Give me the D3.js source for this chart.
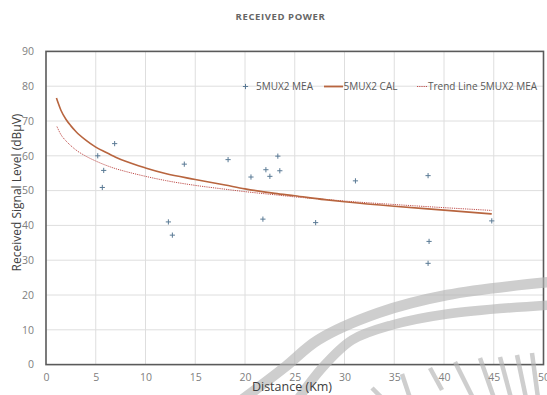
<!DOCTYPE html>
<html><head><meta charset="utf-8">
<script src="https://cdn.jsdelivr.net/npm/d3@7"></script>
<style>body{margin:0;background:#fff;}svg{display:block;font-family:"Open Sans",sans-serif;}</style>
</head><body>
<script>
const title = "RECEIVED POWER";
const xTicks = [0,5,10,15,20,25,30,35,40,45,50];
const yTicks = [0,10,20,30,40,50,60,70,80,90];
// measured points (distance km, level dBuV)
const meaDist = [5.2,5.8,5.66,6.9,12.3,12.7,13.9,18.3,20.6,21.8,22.1,22.5,23.3,23.5,27.1,31.1,38.4,38.5,38.4,44.8];
const meaVal  = [60.0,55.8,50.9,63.5,41.0,37.2,57.6,58.9,53.9,41.8,56.0,54.1,59.9,55.7,40.8,52.8,54.3,35.4,29.1,41.3];
// calculated curve
const calDist = [1.05,1.5,2,2.5,3,4,5,6,7,8,10,12,15,18,20,23,25,28,30,35,40,44.8];
const calVal  = [76.6,73.1,70.5,68.6,67.0,64.5,62.5,61.0,59.6,58.4,56.5,54.9,53.2,51.6,50.5,49.2,48.5,47.4,46.8,45.5,44.4,43.3];
// trend line
const trDist = [1.1,1.5,2,2.5,3,4,5,6,7,8,10,12,15,18,20,23,25,28,30,35,40,44.8];
const trVal  = [68.4,66.1,64.3,62.9,61.7,59.9,58.5,57.3,56.3,55.5,54.1,52.9,51.5,50.4,49.7,48.8,48.2,47.5,47.0,46.0,45.1,44.3];

const W=547,H=395, m={l:46,r:3.5,t:51.4,b:30.4};
const svg=d3.select("body").append("svg").attr("width",W).attr("height",H);
const x=d3.scaleLinear().domain([0,50]).range([m.l,W-m.r]);
const y=d3.scaleLinear().domain([0,90]).range([H-m.b,m.t]);

svg.append("text").attr("x",280.5).attr("y",19.5).attr("text-anchor","middle")
  .attr("font-size",9.5).attr("font-weight","bold").attr("letter-spacing",0.6)
  .attr("fill","#666").text(title);

// grid
svg.append("g").selectAll("line").data(xTicks.slice(1,-1)).join("line")
  .attr("x1",d=>x(d)).attr("x2",d=>x(d)).attr("y1",y(0)).attr("y2",y(90))
  .attr("stroke","#dedede").attr("stroke-width",1);
svg.append("g").selectAll("line").data(yTicks.slice(1,-1)).join("line")
  .attr("y1",d=>y(d)).attr("y2",d=>y(d)).attr("x1",x(0)).attr("x2",x(50))
  .attr("stroke","#dedede").attr("stroke-width",1);

// frame
svg.append("rect").attr("x",x(0)).attr("y",y(90)).attr("width",x(50)-x(0)).attr("height",y(0)-y(90))
  .attr("fill","none").attr("stroke","#5a5a5a").attr("stroke-width",1.6);

// watermark (decorative)
const wmLine=d3.line().curve(d3.curveCatmullRom);
const wm=svg.append("g").attr("fill","none").attr("stroke","#b4b4b4").attr("opacity",0.65).attr("stroke-linecap","butt");
wm.append("path").attr("d",wmLine([[239,402],[285,367],[318,340],[378,313],[447,295],[550,282]])).attr("stroke-width",10.5);
wm.append("path").attr("d",wmLine([[296,402],[322,368],[352,340],[392,325],[447,314],[550,305]])).attr("stroke-width",9.5);
[[[402,374],[410,398]],[[430,368],[442,390]],[[455,362],[473,398]],[[480,358],[494,398]],[[500,357],[511,398]],[[517,355],[526,398]],[[532,353],[538,398]],[[372,388],[382,398]]]
  .forEach(s=>wm.append("path").attr("d",wmLine(s)).attr("stroke-width",4.5));

// axes labels
const xAxis=d3.axisBottom(x).tickValues(xTicks).tickSize(0).tickPadding(9);
const gx=svg.append("g").attr("transform",`translate(0,${y(0)})`).call(xAxis);
const yAxis=d3.axisLeft(y).tickValues(yTicks).tickSize(0).tickPadding(12);
const gy=svg.append("g").attr("transform",`translate(${x(0)},0)`).call(yAxis);
[gx,gy].forEach(g=>{g.select(".domain").remove();g.selectAll("text").attr("font-size",10.5).attr("fill","#808080").attr("font-family","Open Sans");});

svg.append("text").attr("x",292).attr("y",391).attr("text-anchor","middle").attr("font-size",12.5)
  .attr("fill","#404040").text("Distance (Km)");
svg.append("text").attr("transform","translate(21,192.5) rotate(-90)").attr("text-anchor","middle")
  .attr("font-size",12).attr("fill","#404040").text("Received Signal Level (dBμV)");

// lines
const line=d3.line().x(d=>x(d[0])).y(d=>y(d[1])).curve(d3.curveMonotoneX);
svg.append("path").datum(trDist.map((d,i)=>[d,trVal[i]])).attr("d",line)
  .attr("fill","none").attr("stroke","#c0504d").attr("stroke-width",1).attr("stroke-dasharray","1.2,1");
svg.append("path").datum(calDist.map((d,i)=>[d,calVal[i]])).attr("d",line)
  .attr("fill","none").attr("stroke","#b8653f").attr("stroke-width",1.6);

// markers
const plus=(g,cx,cy)=>{g.append("path").attr("d",`M${cx-2.6},${cy}H${cx+2.6}M${cx},${cy-2.6}V${cy+2.6}`)
  .attr("stroke","#5a7a95").attr("stroke-width",1);};
const gm=svg.append("g");
meaDist.forEach((d,i)=>plus(gm,x(d),y(meaVal[i])));

// legend
const lg=svg.append("g").attr("font-size",10).attr("fill","#595959");
plus(lg,245.5,86.5);
lg.append("text").attr("x",256).attr("y",90).text("5MUX2 MEA");
lg.append("line").attr("x1",324).attr("x2",343).attr("y1",86.5).attr("y2",86.5).attr("stroke","#b8653f").attr("stroke-width",1.8);
lg.append("text").attr("x",343.5).attr("y",90).text("5MUX2 CAL");
lg.append("line").attr("x1",417).attr("x2",427).attr("y1",86.5).attr("y2",86.5).attr("stroke","#c0504d").attr("stroke-width",1).attr("stroke-dasharray","1,0.8");
lg.append("text").attr("x",428).attr("y",90).text("Trend Line 5MUX2 MEA");
</script>
</body></html>
